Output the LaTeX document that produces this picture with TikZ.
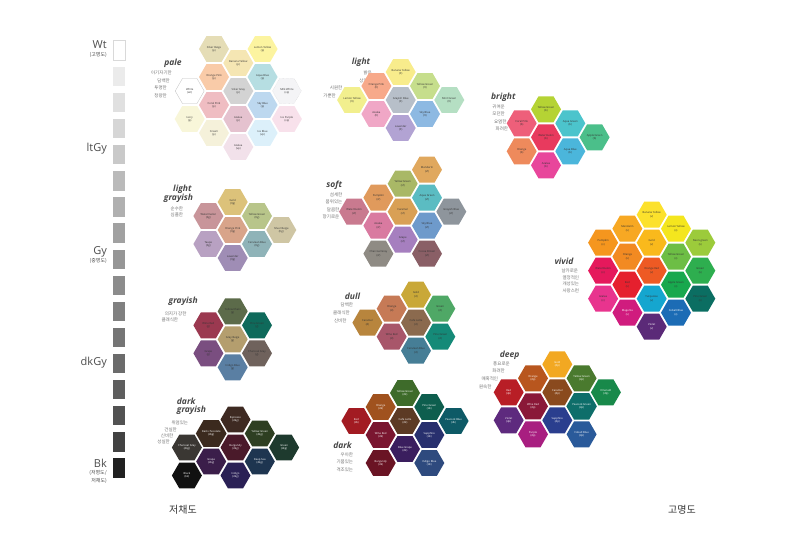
\documentclass[tikz,border=0pt]{standalone}
\usepackage{fontspec}
\setmainfont{Open Sans}
\newfontfamily\kr{Noto Sans CJK KR}
\usetikzlibrary{shapes.geometric}
\newcommand\hexfont{\fontsize{2.7}{3.1}\selectfont}
\begin{document}
\begin{tikzpicture}[x=1pt,y=-1pt,
  hex/.style={regular polygon,regular polygon sides=6,minimum size=30pt,inner sep=0pt,align=center,font=\hexfont,text=black!80},
  hexw/.style={hex,text=white},
  h/.code={\definecolor{hexfill}{HTML}{#1}\pgfkeysalso{fill=hexfill}},
  tone/.style={font=\bfseries\itshape\fontsize{8.5}{9}\selectfont,text=black!72,inner sep=0pt},
  desc/.style={font=\kr\fontsize{4.5}{5}\selectfont,text=black!55,anchor=east,inner sep=0pt},
  chip/.style={minimum width=11.7pt,minimum height=19.3pt,inner sep=0pt},
  axis/.style={font=\fontsize{11}{12}\selectfont,text=black!70,anchor=east,inner sep=0pt},
  axisk/.style={font=\kr\fontsize{5}{5.5}\selectfont,text=black!70,anchor=east,inner sep=0pt}]
\useasboundingbox (0,0) rectangle (800,552);

% gray scale
\foreach \i/\g in {1/0,2/8,3/12,4/16,5/21,6/27,7/31,8/37,9/41,10/45,11/50,12/54,13/58,14/63,15/68,16/74,17/87}
  \node[chip,fill=black!\g] (g\i) at (119.2,{50.35+26.1*(\i-1)}) {};
\draw[black!15,line width=0.4pt] (g1.south west) rectangle (g1.north east);
\node[axis] (wt) at (107,45) {Wt};
\node[axisk] (wtk) at (107,54.5) {(고명도)};
\node[axis] (ltgy) at (107,148.7) {ltGy};
\node[axis] (gy) at (107,251.7) {Gy};
\node[axisk] (gyk) at (107,260.5) {(중명도)};
\node[axis] (dkgy) at (107,363) {dkGy};
\node[axis] (bk) at (107,463) {Bk};
\node[axisk] (bkk1) at (107,472.5) {(저명도/};
\node[axisk] (bkk2) at (107,480.5) {저채도)};
\node[font=\kr\fontsize{10}{11}\selectfont,text=black!80] (low) at (183,510) {저채도};
\node[font=\kr\fontsize{10}{11}\selectfont,text=black!80] (high) at (682,510) {고명도};

% pale
\node[tone] (paleT) at (173,63) {pale};
\node[desc] (paleD1) at (172,73) {아기자기한};
\node[desc] (paleD2) at (170,80.5) {담백한};
\node[desc] (paleD3) at (167,88) {투명한};
\node[desc] (paleD4) at (167,95.5) {청량한};
\begin{scope}[shift={(238.3,91)},x=24.3pt,y=-14pt]
\node[hex,h=E5DDB6] (paSB) at (-1,-3) {Silver Beige\\(p)};
\node[hex,h=FCF4A0] (paLY) at (1,-3) {Lemon Yellow\\(p)};
\node[hex,h=F5E6B3] (paBY) at (0,-2) {Banana Yellow\\(p)};
\node[hex,h=F9CBA8] (paOP) at (-1,-1) {Orange Pink\\(p)};
\node[hex,h=B6DEE2] (paAB) at (1,-1) {Aqua Blue\\(p)};
\node[hex,fill=white,draw=black!25,line width=0.3pt,minimum size=29pt] (paWt) at (-2,0) {White\\(wt)};
\node[hex,h=D3D3D3] (paSG) at (0,0) {Silver Gray\\(p)};
\node[hex,h=F4F4F6,draw=black!25,densely dotted,line width=0.3pt,minimum size=29pt] (paMW) at (2,0) {Milk White\\(vp)};
\node[hex,h=EFBDC2] (paCP) at (-1,1) {Coral Pink\\(p)};
\node[hex,h=BDD8EF] (paSky) at (1,1) {Sky Blue\\(p)};
\node[hex,h=F8F6D9] (paIv) at (-2,2) {Ivory\\(p)};
\node[hex,h=E5C2CF] (paAz) at (0,2) {Azalea\\(p)};
\node[hex,h=F8E1EB] (paIP) at (2,2) {Ice Purple\\(vp)};
\node[hex,h=F5F1DA] (paCr) at (-1,3) {Cream\\(p)};
\node[hex,h=DCF0FA] (paIB) at (1,3) {Ice Blue\\(vp)};
\node[hex,h=F2E1EA] (paAz2) at (0,4) {Azalea\\(vp)};
\end{scope}

% light
\node[tone] (liT) at (361,62.7) {light};
\node[desc] (liD1) at (372,73.3) {밝은};
\node[desc] (liD2) at (372,81) {상쾌한};
\node[desc] (liD3) at (342.5,88.3) {시원한};
\node[desc] (liD4) at (336,95.5) {가뿐한};
\begin{scope}[shift={(400.7,100)},x=24.3pt,y=-14pt]
\node[hex,h=F8EC8C] (liBY) at (0,-2) {Banana Yellow\\(lt)};
\node[hex,h=F7A98A] (liOP) at (-1,-1) {Orange Pink\\(lt)};
\node[hex,h=C6DE8C] (liYG) at (1,-1) {Yellow Green\\(lt)};
\node[hex,h=F2EF8E] (liLY) at (-2,0) {Lemon Yellow\\(lt)};
\node[hex,h=B7BFC9] (liGB) at (0,0) {Grayish Blue\\(lt)};
\node[hex,h=B5DFC3] (liMG) at (2,0) {Mint Green\\(lt)};
\node[hex,h=F0A7C6] (liAz) at (-1,1) {Azalea\\(lt)};
\node[hex,h=8DB9E2] (liSky) at (1,1) {Sky Blue\\(lt)};
\node[hex,h=B2A3D3] (liLv) at (0,2) {Lavender\\(lt)};
\end{scope}

% bright
\node[tone] (brT) at (503.3,97.3) {bright};
\node[desc] (brD1) at (505,106.7) {귀여운};
\node[desc] (brD2) at (505,114) {모던한};
\node[desc] (brD3) at (506.7,121.7) {요염한};
\node[desc] (brD4) at (508.3,129.3) {화려한};
\begin{scope}[shift={(546,137.3)},x=24.3pt,y=-14pt]
\node[hex,h=B5D334] (brYG) at (0,-2) {Yellow Green\\(b)};
\node[hex,h=EE5F7A] (brCP) at (-1,-1) {Coral Pink\\(b)};
\node[hex,h=4CC4CC] (brAG) at (1,-1) {Aqua Green\\(b)};
\node[hex,h=E83A5E] (brWM) at (0,0) {Watermelon\\(b)};
\node[hex,h=4BBF8A] (brApG) at (2,0) {Apple Green\\(b)};
\node[hex,h=EE8A5C] (brOr) at (-1,1) {Orange\\(b)};
\node[hex,h=4BB6DB] (brAB) at (1,1) {Aqua Blue\\(b)};
\node[hex,h=E8469B] (brAz) at (0,2) {Azalea\\(b)};
\end{scope}

% light grayish
\node[tone,anchor=east] (lgT1) at (191.7,189.5) {light};
\node[tone,anchor=east] (lgT2) at (193.3,197.8) {grayish};
\node[desc] (lgD1) at (183.3,209.3) {순수한};
\node[desc] (lgD2) at (183.3,215) {심플한};
\begin{scope}[shift={(232.7,230)},x=24.3pt,y=-14pt]
\node[hex,h=DCC27A] (lgGo) at (0,-2) {Gold\\(ltg)};
\node[hex,h=C8959A] (lgWM) at (-1,-1) {Watermelon\\(ltg)};
\node[hex,h=B8C58A] (lgYG) at (1,-1) {Yellow Green\\(ltg)};
\node[hex,h=D8A48A] (lgOP) at (0,0) {Orange Pink\\(ltg)};
\node[hex,h=CFC6A4] (lgSB) at (2,0) {Silver Beige\\(ltg)};
\node[hex,h=B8A1C2] (lgTp) at (-1,1) {Taupe\\(ltg)};
\node[hex,h=8FB3B8] (lgCB) at (1,1) {Cerulean Blue\\(ltg)};
\node[hex,h=9F8DB5] (lgLv) at (0,2) {Lavender\\(ltg)};
\end{scope}

% soft
\node[tone] (sfT) at (334.2,185) {soft};
\node[desc] (sfD1) at (342.5,195) {섬세한};
\node[desc] (sfD2) at (342.5,201.7) {품위있는};
\node[desc] (sfD3) at (339.5,209.3) {달콤한};
\node[desc] (sfD4) at (339.5,216.7) {향기로운};
\begin{scope}[shift={(402.7,211.7)},x=24.3pt,y=-14pt]
\node[hex,h=E0A85E] (sfMd) at (1,-3) {Mandarin\\(sf)};
\node[hex,h=A9B866] (sfYG) at (0,-2) {Yellow Green\\(sf)};
\node[hex,h=E09A5C] (sfPk) at (-1,-1) {Pumpkin\\(sf)};
\node[hex,h=5BBCC2] (sfAG) at (1,-1) {Aqua Green\\(sf)};
\node[hex,h=C97A8F] (sfWM) at (-2,0) {Watermelon\\(sf)};
\node[hex,h=D9A055] (sfCa) at (0,0) {Caramel\\(sf)};
\node[hex,h=8E959C] (sfGB) at (2,0) {Grayish Blue\\(sf)};
\node[hex,h=D97AA0] (sfAz) at (-1,1) {Azalea\\(sf)};
\node[hex,h=6E9ACB] (sfSky) at (1,1) {Sky Blue\\(sf)};
\node[hex,h=A67FBF] (sfGr) at (0,2) {Grape\\(sf)};
\node[hex,h=8F8B84] (sfCG) at (-1,3) {Charcoal Gray\\(sf)};
\node[hex,h=8A5F66] (sfCB) at (1,3) {Cocoa Brown\\(sf)};
\end{scope}

% vivid
\node[tone] (viT) at (564,261.7) {vivid};
\node[desc] (viD1) at (578.3,271) {날카로운};
\node[desc] (viD2) at (579.3,277.7) {열정적인};
\node[desc] (viD3) at (579.3,284.3) {개성있는};
\node[desc] (viD4) at (579.3,291) {사랑스런};
\begin{scope}[shift={(651.7,270.7)},x=24.3pt,y=-14pt]
\node[hex,h=FCE12C] (viBY) at (0,-4) {Banana Yellow\\(v)};
\node[hex,h=F7A823] (viMd) at (-1,-3) {Mandarin\\(v)};
\node[hex,h=F4E61E] (viLY) at (1,-3) {Lemon Yellow\\(v)};
\node[hex,h=F5961E] (viPk) at (-2,-2) {Pumpkin\\(v)};
\node[hex,h=F9B91C] (viGo) at (0,-2) {Gold\\(v)};
\node[hex,h=9CCB3B] (viNG) at (2,-2) {Neon-green\\(v)};
\node[hex,h=F28A22] (viOr) at (-1,-1) {Orange\\(v)};
\node[hex,h=6DBE45] (viYG) at (1,-1) {Yellow Green\\(v)};
\node[hex,h=E5195C] (viWM) at (-2,0) {Watermelon\\(v)};
\node[hex,h=EE5A24] (viOR) at (0,0) {Orange Red\\(v)};
\node[hex,h=2EAE4F] (viGn) at (2,0) {Green\\(v)};
\node[hex,h=E5202E] (viRd) at (-1,1) {Red\\(v)};
\node[hex,h=18A84E] (viApG) at (1,1) {Apple Green\\(v)};
\node[hex,h=E8348E] (viAz) at (-2,2) {Azalea\\(v)};
\node[hex,h=15A6CF] (viTq) at (0,2) {Turquoise\\(v)};
\node[hex,h=0B6E62] (viPG) at (2,2) {Pine Green\\(v)};
\node[hexw,h=D01C7E] (viMg) at (-1,3) {Magenta\\(v)};
\node[hexw,h=1C6CB5] (viCB) at (1,3) {Cobalt Blue\\(v)};
\node[hexw,h=5B2A78] (viVi) at (0,4) {Violet\\(v)};
\end{scope}

% grayish
\node[tone] (grT) at (183.3,301.7) {grayish};
\node[desc] (grD1) at (186.7,314) {의지가 강한};
\node[desc] (grD2) at (178.3,319.5) {클래식한};
\begin{scope}[shift={(232.7,339.3)},x=24.3pt,y=-14pt]
\node[hex,h=5C6B4A] (grYK) at (0,-2) {Yellow Khaki\\(g)};
\node[hex,h=9B3950] (grWR) at (-1,-1) {Wine Red\\(g)};
\node[hex,h=0F6A5B] (grPG) at (1,-1) {Pine Green\\(g)};
\node[hex,h=B49E6E] (grGB) at (0,0) {Gray Beige\\(g)};
\node[hex,h=7A4E80] (grGp) at (-1,1) {Grape\\(g)};
\node[hex,h=6F625C] (grCG) at (1,1) {Charcoal Gray\\(g)};
\node[hex,h=5A7FA3] (grIB) at (0,2) {Indigo Blue\\(g)};
\end{scope}

% dull
\node[tone] (duT) at (352.5,296) {dull};
\node[desc] (duD1) at (353.3,305) {담백한};
\node[desc] (duD2) at (350,313.3) {클래식한};
\node[desc] (duD3) at (346.7,321) {신비한};
\begin{scope}[shift={(416,322.7)},x=24.3pt,y=-14pt]
\node[hex,h=C9A838] (duGo) at (0,-2) {Gold\\(d)};
\node[hex,h=C67A56] (duOr) at (-1,-1) {Orange\\(d)};
\node[hex,h=4FA866] (duGn) at (1,-1) {Green\\(d)};
\node[hex,h=B8853D] (duCa) at (-2,0) {Caramel\\(d)};
\node[hex,h=8B6A4E] (duCL) at (0,0) {Cafe Latte\\(d)};
\node[hex,h=A8566A] (duWR) at (-1,1) {Wine Red\\(d)};
\node[hex,h=158A78] (duPG) at (1,1) {Pine Green\\(d)};
\node[hex,h=467E96] (duCB) at (0,2) {Cerulean Blue\\(d)};
\end{scope}

% dark grayish
\node[tone,anchor=west] (dgT1) at (176.7,401.5) {dark};
\node[tone,anchor=west] (dgT2) at (176.7,410) {grayish};
\node[desc] (dgD1) at (188.3,423.3) {위엄있는};
\node[desc] (dgD2) at (177,429.5) {건실한};
\node[desc] (dgD3) at (173.5,435.5) {신비한};
\node[desc] (dgD4) at (170,441.5) {성실한};
\begin{scope}[shift={(235.5,447.5)},x=24.3pt,y=-14pt]
\node[hexw,h=3E2A22] (dgEs) at (0,-2) {Espresso\\(dkg)};
\node[hexw,h=3B2A1E] (dgDC) at (-1,-1) {Dark chocolate\\(dkg)};
\node[hexw,h=2E3F22] (dgYG) at (1,-1) {Yellow Green\\(dkg)};
\node[hexw,h=3A3733] (dgCG) at (-2,0) {Charcoal Gray\\(dkg)};
\node[hexw,h=4A1A2A] (dgBu) at (0,0) {Burgundy\\(dkg)};
\node[hexw,h=1E3A2E] (dgGn) at (2,0) {Green\\(dkg)};
\node[hexw,h=3B1E4A] (dgGp) at (-1,1) {Grape\\(dkg)};
\node[hexw,h=1E3550] (dgDS) at (1,1) {Deep Sea\\(dkg)};
\node[hexw,h=111111] (dgBk) at (-2,2) {Black\\(bk)};
\node[hexw,h=2A2055] (dgIn) at (0,2) {Indigo\\(dkg)};
\end{scope}

% dark
\node[tone] (dkT) at (342.5,445.7) {dark};
\node[desc] (dkD1) at (353.3,455) {우아한};
\node[desc] (dkD2) at (353.3,462.3) {기품있는};
\node[desc] (dkD3) at (353.3,469.5) {격조있는};
\begin{scope}[shift={(405,421)},x=24.3pt,y=-14pt]
\node[hexw,h=3E6B2A] (dkYG) at (0,-2) {Yellow Green\\(dk)};
\node[hexw,h=A0521E] (dkOr) at (-1,-1) {Orange\\(dk)};
\node[hexw,h=0E5E4E] (dkPG) at (1,-1) {Pine Green\\(dk)};
\node[hexw,h=A21B22] (dkRd) at (-2,0) {Red\\(dk)};
\node[hexw,h=5C3A24] (dkCL) at (0,0) {Cafe Latte\\(dk)};
\node[hexw,h=0E5A66] (dkPB) at (2,0) {Peacock Blue\\(dk)};
\node[hexw,h=7A1630] (dkWR) at (-1,1) {Wine Red\\(dk)};
\node[hexw,h=28306E] (dkSp) at (1,1) {Sapphire\\(dk)};
\node[hexw,h=3A1E5E] (dkBG) at (0,2) {Blue Grape\\(dk)};
\node[hexw,h=6A1424] (dkBu) at (-1,3) {Burgundy\\(dk)};
\node[hexw,h=2E4A7E] (dkIB) at (1,3) {Indigo Blue\\(dk)};
\end{scope}

% deep
\node[tone] (dpT) at (509.7,355) {deep};
\node[desc] (dpD1) at (510,364.3) {풍요로운};
\node[desc] (dpD2) at (505,371.3) {화려한};
\node[desc] (dpD3) at (498.3,378.5) {매혹적인};
\node[desc] (dpD4) at (491.7,386.7) {원숙한};
\begin{scope}[shift={(557.3,392.3)},x=24.3pt,y=-14pt]
\node[hexw,h=F2A822] (dpGo) at (0,-2) {Gold\\(dp)};
\node[hexw,h=B8561E] (dpOr) at (-1,-1) {Orange\\(dp)};
\node[hexw,h=4A7A2E] (dpYG) at (1,-1) {Yellow Green\\(dp)};
\node[hexw,h=B81E26] (dpRd) at (-2,0) {Red\\(dp)};
\node[hexw,h=8A4A1E] (dpCa) at (0,0) {Caramel\\(dp)};
\node[hexw,h=18894A] (dpEm) at (2,0) {Emerald\\(dp)};
\node[hexw,h=8A1838] (dpWR) at (-1,1) {Wine Red\\(dp)};
\node[hexw,h=0E6E6A] (dpPG) at (1,1) {Peacock Green\\(dp)};
\node[hexw,h=5E2A7E] (dpVi) at (-2,2) {Violet\\(dp)};
\node[hexw,h=2A3E8E] (dpSp) at (0,2) {Sapphire\\(dp)};
\node[hexw,h=A81E80] (dpPu) at (-1,3) {Purple\\(dp)};
\node[hexw,h=2A5A9A] (dpCB) at (1,3) {Cobalt Blue\\(dp)};
\end{scope}
\end{tikzpicture}
\end{document}
